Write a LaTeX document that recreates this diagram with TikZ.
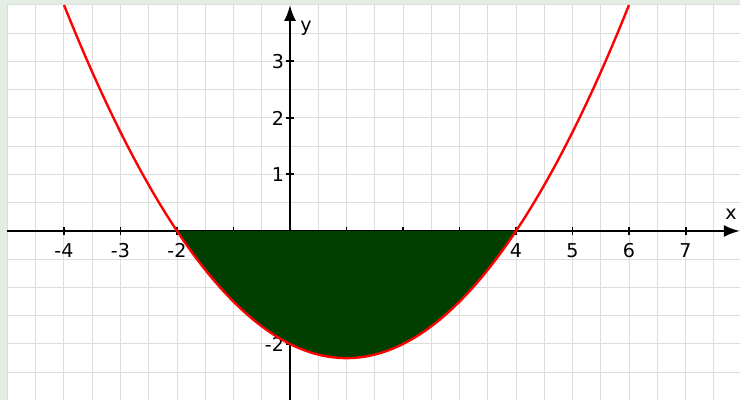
\documentclass[tikz,border=0pt]{standalone}
\usepackage{fontspec}
\setmainfont{DejaVu Sans}
\usetikzlibrary{arrows.meta}
\definecolor{bordergreen}{RGB}{227,237,227}
\definecolor{gridgray}{RGB}{221,221,221}
\definecolor{areagreen}{RGB}{0,63,0}
\begin{document}
\begin{tikzpicture}[
  axisline/.style={line width=1pt,-{Latex[length=0.28cm,width=0.21cm]}},
  tickmark/.style={line width=1pt},
  lbl/.style={font=\fontsize{9.6}{11}\selectfont,inner sep=0pt},
  curve/.style={red,line width=1.2pt},
  gridline/.style={gridgray,line width=0.5pt}
]
% background and margins
\fill[bordergreen] (-5.1327,-2.9912) rectangle (7.9646,4.0885);
\useasboundingbox (-5.1327,-2.9912) rectangle (7.9646,4.0885);
\fill[white] (-5.0088,-2.9912) rectangle (7.9646,4.0);
% grid
\draw[gridline] (-5.0088,-2.9912) grid[step=0.5] (7.9646,4.0);
% axes
\coordinate (xs) at (-5.0088,0);
\coordinate (xe) at (7.96,0);
\coordinate (ys) at (0,-2.9912);
\coordinate (ye) at (0,4.0);
\draw[axisline] (xs) -- (xe);
\draw[axisline] (ys) -- (ye);
\foreach \i in {-4,...,7} \draw[tickmark] (\i,-0.075) -- (\i,0.075);
\foreach \j in {-2,...,3} \draw[tickmark] (-0.075,\j) -- (0.075,\j);
% labels
\foreach \i in {-4,-3,-2,4,5,6,7} \node[lbl] (xl\i) at (\i,-0.34) {\i};
\foreach \j in {1,2,3,-2} \node[lbl,anchor=east] (yl\j) at (-0.1,\j) {\j};
\node[lbl] (xname) at (7.805,0.30) {x};
\node[lbl] (yname) at (0.283,3.59) {y};
% area
\fill[areagreen] plot[domain=-2:4,samples=100] (\x,{0.25*(\x+2)*(\x-4)}) -- cycle;
% curve
\draw[curve] plot[domain=-4:6,samples=150] (\x,{0.25*(\x+2)*(\x-4)});
\end{tikzpicture}
\end{document}
